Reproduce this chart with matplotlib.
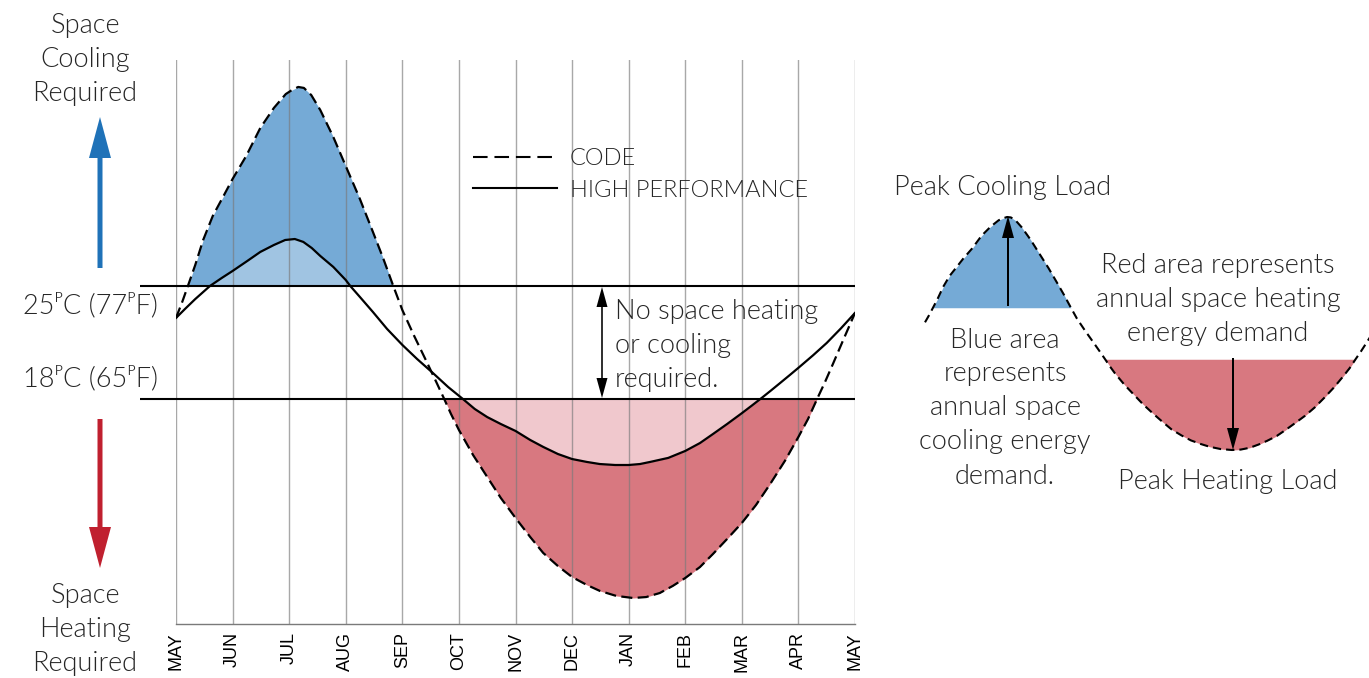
import numpy as np
import matplotlib
matplotlib.use("Agg")
import matplotlib.pyplot as plt
from matplotlib.lines import Line2D
from matplotlib.patches import FancyArrow

# ---------------- data (month index 0 = MAY ... 12 = MAY; load in deg-C balance units)
months = ["MAY", "JUN", "JUL", "AUG", "SEP", "OCT", "NOV", "DEC", "JAN", "FEB", "MAR", "APR", "MAY"]

code_m = [0, 0.11, 0.21, 0.34, 0.48, 0.65, 0.83, 1.0, 1.24, 1.49, 1.73, 1.94, 2.05, 2.16, 2.26,
          2.39, 2.55, 2.78, 3.0, 3.25, 3.48, 3.66, 3.84, 4.0, 4.21, 4.44, 4.6, 4.74, 4.86,
          5.0, 5.25, 5.5, 5.74, 6.0, 6.26, 6.49, 6.75, 7.0, 7.26, 7.49, 7.78, 8.08, 8.31,
          8.55, 8.78, 9.0, 9.26, 9.49, 9.74, 10.0, 10.25, 10.5, 10.76, 11.0, 11.17, 11.33,
          11.47, 11.61, 11.8, 12.0]
code_t = [23.02, 24.01, 25.0, 26.3, 27.85, 29.34, 30.51, 31.63, 33.05, 34.79, 36.03, 36.89, 37.14,
          37.33, 37.27, 36.83, 35.9, 34.23, 32.43, 30.39, 28.35, 26.73, 25.0, 23.51, 21.9,
          20.23, 19.05, 18.0, 17.07, 16.08, 14.53, 13.17, 11.87, 10.63, 9.45, 8.46, 7.65,
          6.97, 6.48, 6.11, 5.8, 5.67, 5.73, 5.98, 6.42, 6.91, 7.59, 8.4, 9.33, 10.32,
          11.43, 12.73, 14.16, 15.65, 16.76, 18.0, 19.05, 20.17, 21.72, 23.33]

hp_m = [0, 0.16, 0.34, 0.6, 0.81, 1.0, 1.26, 1.49, 1.73, 1.93, 2.1, 2.25, 2.4, 2.55, 2.78,
        3.0, 3.08, 3.25, 3.48, 3.73, 4.0, 4.26, 4.54, 4.81, 5.07, 5.28, 5.5, 5.74, 6.0,
        6.26, 6.49, 6.75, 7.0, 7.26, 7.49, 7.76, 8.0, 8.2, 8.38, 8.7, 9.0, 9.26, 9.49,
        9.74, 10.0, 10.18, 10.36, 10.52, 10.67, 10.85, 11.0, 11.26, 11.5, 11.75, 12.0]
hp_t = [23.02, 23.58, 24.19, 25.0, 25.5, 25.93, 26.55, 27.11, 27.54, 27.85, 27.91, 27.73, 27.35,
        26.86, 26.18, 25.37, 25.0, 24.32, 23.39, 22.34, 21.35, 20.48, 19.61, 18.74, 18.0,
        17.38, 16.88, 16.45, 16.02, 15.46, 15.03, 14.59, 14.28, 14.1, 13.97, 13.91, 13.91,
        13.97, 14.1, 14.35, 14.78, 15.27, 15.83, 16.45, 17.12, 17.6, 18.09, 18.54, 18.97,
        19.49, 19.93, 20.71, 21.47, 22.37, 23.33]

upper_limit = 25.0
lower_limit = 18.0
limit_labels = ["25\u1D3EC (77\u1D3EF)", "18\u1D3EC (65\u1D3EF)"]
series_labels = ["CODE", "HIGH PERFORMANCE"]

# ---------------- style
W, H = 1369, 678
DPI = 100
BLUE = "#75AAD6"
LBLUE = "#A0C4E2"
RED = "#D87880"
PINK = "#F0C8CD"
TXT = "#262626"
FONT = ["Lato", "DejaVu Sans"]
FS = 19.5
WEIGHT = 300

plt.rcParams["font.family"] = FONT

code_m_a = np.array(code_m); code_t_a = np.array(code_t)
hp_m_a = np.array(hp_m); hp_t_a = np.array(hp_t)

fig = plt.figure(figsize=(W / DPI, H / DPI), dpi=DPI)

def px_rect(x0, x1, ytop, ybot):
    return [x0 / W, (H - ybot) / H, (x1 - x0) / W, (ybot - ytop) / H]

# ---------------- main axes
ax = fig.add_axes(px_rect(176, 855, 60, 624))
ax.set_xlim(0, 12)
ax.set_ylim(4.06, 39.0)

ax.fill_between(code_m_a, code_t_a, upper_limit, where=code_t_a >= upper_limit,
                interpolate=True, color=BLUE, lw=0, zorder=1)
ax.fill_between(hp_m_a, hp_t_a, upper_limit, where=hp_t_a >= upper_limit,
                interpolate=True, color=LBLUE, lw=0, zorder=1.5)
ax.fill_between(code_m_a, code_t_a, lower_limit, where=code_t_a <= lower_limit,
                interpolate=True, color=RED, lw=0, zorder=1)
ax.fill_between(hp_m_a, hp_t_a, lower_limit, where=hp_t_a <= lower_limit,
                interpolate=True, color=PINK, lw=0, zorder=1.5)

for i in range(len(months)):
    ax.axvline(i, color="#7a7a7a", lw=1.0, alpha=0.65, zorder=2)

for lv in (upper_limit, lower_limit):
    ax.plot([-0.636, 12], [lv, lv], color="black", lw=1.5, zorder=3, clip_on=False,
            solid_capstyle="butt")

ax.plot(code_m_a, code_t_a, color="black", lw=1.6, dashes=(5, 2.4), zorder=4)
ax.plot(hp_m_a, hp_t_a, color="black", lw=1.6, zorder=4)

for s in ("top", "left", "right"):
    ax.spines[s].set_visible(False)
ax.spines["bottom"].set_color("#7a7a7a")
ax.spines["bottom"].set_linewidth(1.0)
ax.set_yticks([])
ax.set_xticks(range(len(months)))
ax.set_xticklabels(months, rotation=90, fontsize=13, family="Liberation Sans", color="black")
ax.tick_params(axis="x", length=0, pad=6)
ax.patch.set_alpha(0)

handles = [Line2D([], [], color="black", lw=1.5, dashes=(7, 3.3)),
           Line2D([], [], color="black", lw=1.5)]
leg = ax.legend(handles, series_labels, loc="upper left", frameon=False,
                bbox_to_anchor=(473 / W, (H - 148) / H), bbox_transform=fig.transFigure,
                prop={"size": 17, "weight": WEIGHT, "family": FONT},
                handlelength=3.55, handletextpad=0.55, labelspacing=0.45,
                borderpad=0, borderaxespad=0)
for t in leg.get_texts():
    t.set_color(TXT)

# ---------------- right schematic (same CODE curve, scaled)
ax2 = fig.add_axes(px_rect(925, 1381, 204.7, 462.3))
ax2.set_xlim(0, 12)
ax2.set_ylim(4.0, 39.0)
ax2.axis("off")
ax2.fill_between(code_m_a, code_t_a, upper_limit, where=code_t_a >= upper_limit,
                 interpolate=True, color=BLUE, lw=0)
ax2.fill_between(code_m_a, code_t_a, lower_limit, where=code_t_a <= lower_limit,
                 interpolate=True, color=RED, lw=0)
ax2.plot(code_m_a, code_t_a, color="black", lw=1.5, dashes=(4, 2.4), clip_on=False)

# ---------------- overlay for annotations (pixel coordinates)
ov = fig.add_axes([0, 0, 1, 1])
ov.set_xlim(0, W)
ov.set_ylim(H, 0)
ov.axis("off")
ov.patch.set_alpha(0)

def arrow(x, y0, y1, width, hw, hl, color):
    ov.add_patch(FancyArrow(x, y0, 0, y1 - y0, width=width, head_width=hw, head_length=hl,
                            length_includes_head=True, color=color, lw=0))

arrow(100, 268, 117, 5, 22, 41, "#1F72B8")
arrow(100, 419, 568, 5, 22, 41, "#C0202F")
# double arrow
arrow(602, 343, 287, 1.6, 11, 20, "black")
arrow(602, 343, 398, 1.6, 11, 20, "black")
# schematic arrows
arrow(1008, 306, 216, 2.0, 12, 22, "black")
arrow(1233, 358, 450, 2.0, 12, 22, "black")

def block(x, y, s, ha="center", fs=FS):
    ov.text(x, y, s, ha=ha, va="center", fontsize=fs, color=TXT, linespacing=1.45,
            fontweight=WEIGHT)

block(85, 59, "Space\nCooling\nRequired")
block(85, 630, "Space\nHeating\nRequired")
ov.text(158, 305, limit_labels[0], ha="right", va="center", fontsize=FS, color=TXT,
        fontweight=WEIGHT)
ov.text(158, 378, limit_labels[1], ha="right", va="center", fontsize=FS, color=TXT,
        fontweight=WEIGHT)
block(615, 345, "No space heating\nor cooling\nrequired.", ha="left")
block(1003, 188, "Peak Cooling Load")
block(1218, 300, "Red area represents\nannual space heating\nenergy demand")
block(1005, 408, "Blue area\nrepresents\nannual space\ncooling energy\ndemand.")
block(1228, 482, "Peak Heating Load")

fig.savefig("out.png", dpi=DPI, facecolor="white")
